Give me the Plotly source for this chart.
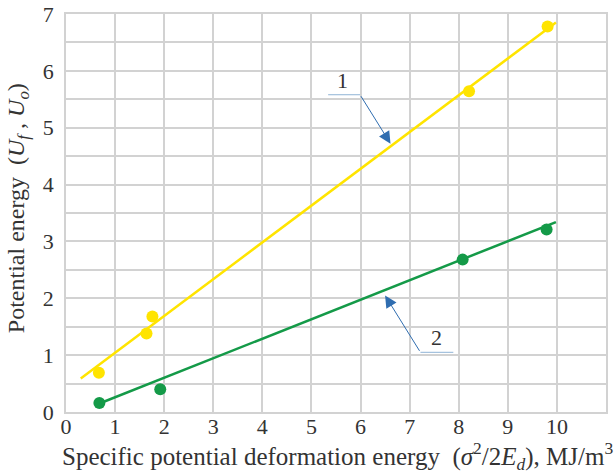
import plotly.graph_objects as go

# Data
pts1_x = [0.67, 1.64, 1.76, 8.21, 9.81]
pts1_y = [0.69, 1.38, 1.68, 5.64, 6.78]
line1_x = [0.30, 9.98]
line1_y = [0.59, 6.85]

pts2_x = [0.68, 1.92, 8.08, 9.79]
pts2_y = [0.16, 0.40, 2.68, 3.21]
line2_x = [0.68, 9.98]
line2_y = [0.15, 3.34]

x_ticks = list(range(0, 12))
y_ticks = list(range(0, 8))

YELLOW = "#ffe400"
GREEN = "#149a48"
GRID = "#d2d2d2"
ARROW = "#2f6db0"
LEADER = "#8fb3d6"
FONT = "Liberation Serif, Times New Roman, serif"
TXT = "#333333"

fig = go.Figure()
fig.add_trace(go.Scatter(x=line1_x, y=line1_y, mode="lines",
                         line=dict(color=YELLOW, width=2.5), showlegend=False))
fig.add_trace(go.Scatter(x=pts1_x, y=pts1_y, mode="markers",
                         marker=dict(color=YELLOW, size=12), showlegend=False))
fig.add_trace(go.Scatter(x=line2_x, y=line2_y, mode="lines",
                         line=dict(color=GREEN, width=2.5), showlegend=False))
fig.add_trace(go.Scatter(x=pts2_x, y=pts2_y, mode="markers",
                         marker=dict(color=GREEN, size=12), showlegend=False))

# leader lines (horizontal parts)
fig.add_shape(type="line", x0=5.34, x1=5.99, y0=5.58, y1=5.58,
              line=dict(color=LEADER, width=1))
fig.add_shape(type="line", x0=7.22, x1=7.89, y0=1.05, y1=1.05,
              line=dict(color=LEADER, width=1))

# arrows
fig.add_annotation(x=6.61, y=4.72, ax=5.99, ay=5.58, axref="x", ayref="y",
                   xref="x", yref="y", text="", showarrow=True,
                   arrowhead=2, arrowsize=2.4, arrowwidth=1, arrowcolor=ARROW)
fig.add_annotation(x=6.50, y=2.05, ax=7.22, ay=1.05, axref="x", ayref="y",
                   xref="x", yref="y", text="", showarrow=True,
                   arrowhead=2, arrowsize=2.4, arrowwidth=1, arrowcolor=ARROW)

# labels
fig.add_annotation(x=5.64, y=5.58, text="1", showarrow=False, yanchor="bottom",
                   font=dict(family=FONT, size=22, color=TXT))
fig.add_annotation(x=7.55, y=1.05, text="2", showarrow=False, yanchor="bottom",
                   font=dict(family=FONT, size=22, color=TXT))

# axis titles
fig.add_annotation(xref="paper", yref="paper", x=0.502, y=-0.11,
                   xanchor="center", yanchor="middle", showarrow=False,
                   text="Specific potential deformation energy  (<i>σ</i><sup>2</sup>/2<i>E<sub>d</sub></i>), MJ/m<sup>3</sup>",
                   font=dict(family=FONT, size=25, color=TXT))
fig.add_annotation(xref="paper", yref="paper", x=-0.089, y=0.512,
                   xanchor="center", yanchor="middle", showarrow=False, textangle=-90,
                   text="Potential energy  (<i>U<sub>f</sub></i> , <i>U<sub>o</sub></i>)",
                   font=dict(family=FONT, size=24, color=TXT))

fig.update_layout(
    width=616, height=473,
    margin=dict(l=66, r=10, t=14, b=61),
    paper_bgcolor="white", plot_bgcolor="white",
    font=dict(family=FONT, size=22, color=TXT),
)
fig.update_xaxes(
    range=[0, 11], tickvals=x_ticks, ticktext=[str(v) for v in x_ticks],
    showgrid=True, gridcolor=GRID, gridwidth=1.5,
    showline=True, linecolor=GRID, linewidth=1.5, mirror=True,
    zeroline=False, ticks="", ticklabelstandoff=-6, automargin=False,
    tickfont=dict(family=FONT, size=22, color=TXT),
)
fig.update_yaxes(
    range=[0, 7], tickvals=y_ticks, ticktext=[str(v) for v in y_ticks],
    showgrid=True, gridcolor=GRID, gridwidth=1.5,
    minor=dict(dtick=0.5, showgrid=True, gridcolor=GRID, gridwidth=1.5),
    showline=True, linecolor=GRID, linewidth=1.5, mirror=True,
    zeroline=False, ticks="", ticklabelstandoff=6, automargin=False,
    tickfont=dict(family=FONT, size=22, color=TXT),
)

fig.write_html("out.html")
